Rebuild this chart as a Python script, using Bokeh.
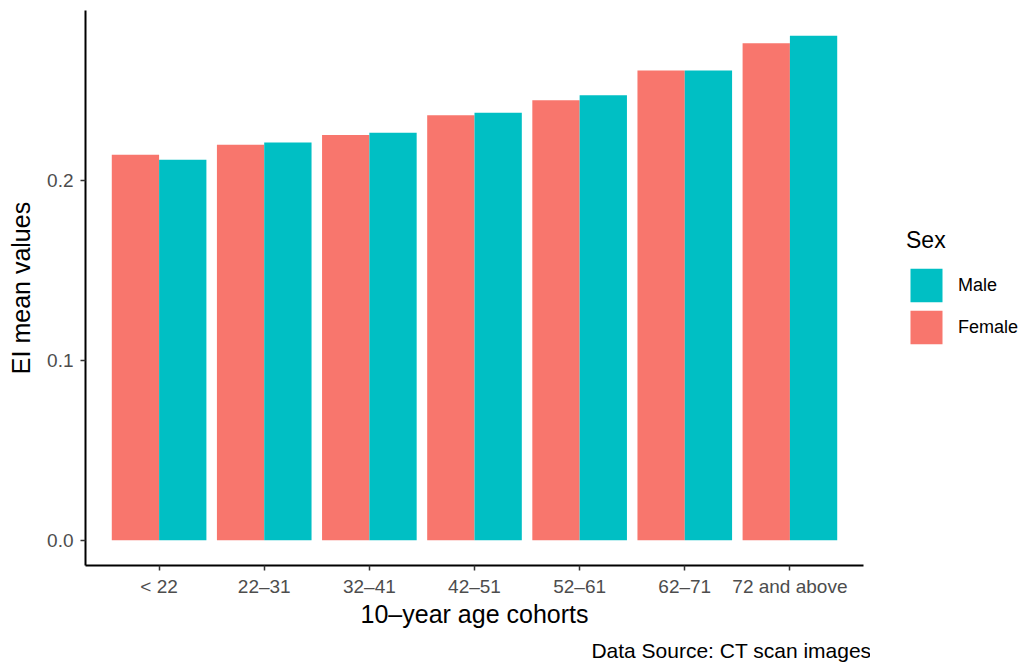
from bokeh.plotting import figure
from bokeh.layouts import row
from bokeh.models import (ColumnDataSource, FactorRange, Range1d, FixedTicker,
                          NumeralTickFormatter, Legend, LegendItem, Title)
from bokeh.transform import dodge
from bokeh.embed import file_html
from bokeh.resources import INLINE

cohorts = ["< 22", "22\u201331", "32\u201341", "42\u201351", "52\u201361", "62\u201371", "72 and above"]
female = [0.2144, 0.2200, 0.2254, 0.2365, 0.2448, 0.2613, 0.2765]
male = [0.2117, 0.2213, 0.2267, 0.2378, 0.2476, 0.2613, 0.2807]
y_ticks = [0.0, 0.1, 0.2]

FEMALE_C = "#F8766D"
MALE_C = "#00BFC4"
FONT = "Liberation Sans"

src = ColumnDataSource(dict(cohort=cohorts, female=female, male=male))

p = figure(frame_width=778, frame_height=555, output_backend="svg", toolbar_location=None,
           x_range=FactorRange(factors=cohorts, range_padding=0.2, range_padding_units="absolute"),
           y_range=Range1d(-0.014, 0.2947),
           min_border_left=85, min_border_right=7, min_border_top=10, min_border_bottom=20)

rf = p.vbar(x=dodge("cohort", -0.225, range=p.x_range), top="female", width=0.45,
            source=src, fill_color=FEMALE_C, line_color=None)
rm = p.vbar(x=dodge("cohort", 0.225, range=p.x_range), top="male", width=0.45,
            source=src, fill_color=MALE_C, line_color=None)

p.xgrid.visible = False
p.ygrid.visible = False
p.outline_line_color = None
p.background_fill_color = "white"
p.border_fill_color = "white"

for ax in (p.xaxis[0], p.yaxis[0]):
    ax.axis_line_color = "black"
    ax.axis_line_width = 2
    ax.major_tick_line_color = "#333333"
    ax.major_tick_line_width = 1.5
    ax.major_tick_in = 0
    ax.major_tick_out = 5
    ax.minor_tick_line_color = None
    ax.major_label_text_font = FONT
    ax.major_label_text_font_size = "19px"
    ax.major_label_text_color = "#4D4D4D"
    ax.axis_label_text_font = FONT
    ax.axis_label_text_font_style = "normal"
    ax.axis_label_text_color = "black"

p.yaxis.ticker = FixedTicker(ticks=y_ticks)
p.yaxis.formatter = NumeralTickFormatter(format="0.0")
p.yaxis.axis_label = "EI mean values"
p.yaxis.axis_label_text_font_size = "25px"
p.yaxis.major_label_standoff = 7
p.yaxis.axis_label_standoff = 9

p.xaxis.axis_label = "10\u2013year age cohorts"
p.xaxis.axis_label_text_font_size = "25px"
p.xaxis.major_label_standoff = 5
p.xaxis.axis_label_standoff = 0

cap = Title(text="Data Source: CT scan images", align="right", text_font=FONT,
            text_font_size="21px", text_font_style="normal", text_color="black",
            standoff=12, offset=-8)
p.add_layout(cap, "below")

# legend panel (zero-width bars out of view; only their legend swatches show)
lg = figure(width=149, height=660, output_backend="svg", toolbar_location=None,
            x_range=FactorRange(factors=cohorts), y_range=Range1d(-20, -10),
            x_axis_location=None, y_axis_location=None,
            min_border=0)
lg.xgrid.visible = False
lg.ygrid.visible = False
lg.outline_line_color = None
lg.background_fill_color = "white"
lg.border_fill_color = "white"
lg_m = lg.vbar(x="cohort", top="male", width=0, source=src, fill_color=MALE_C, line_color=None)
lg_f = lg.vbar(x="cohort", top="female", width=0, source=src, fill_color=FEMALE_C, line_color=None)

legend = Legend(items=[LegendItem(label="Male", renderers=[lg_m]),
                       LegendItem(label="Female", renderers=[lg_f])],
                location=(36, 210), title="Sex",
                title_text_font=FONT, title_text_font_size="23px", title_text_font_style="normal",
                title_text_color="black", title_standoff=10,
                label_text_font=FONT, label_text_font_size="18px", label_text_color="black",
                glyph_width=40, glyph_height=42, label_height=42,
                spacing=0, padding=5, margin=0, label_standoff=12,
                border_line_color=None, background_fill_alpha=0)
lg.add_layout(legend, "center")

layout = row(p, lg, spacing=0)
open("out.html", "w").write(file_html(layout, INLINE))
